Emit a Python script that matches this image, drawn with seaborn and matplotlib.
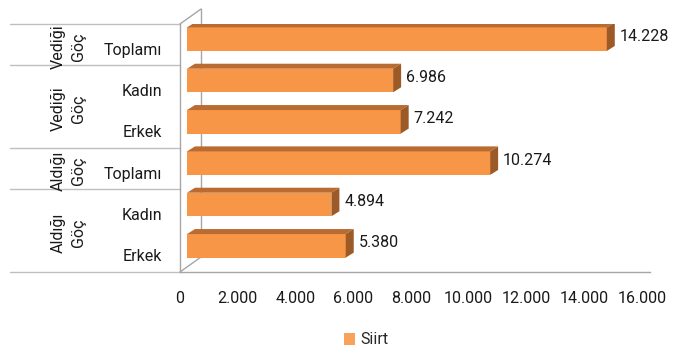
import matplotlib
matplotlib.use("Agg")
import matplotlib.pyplot as plt
import matplotlib.transforms as mtransforms
from matplotlib.patches import Polygon, Patch
import pandas as pd
import seaborn as sns

# data
groups = ["Vediği\nGöç", "Vediği\nGöç", "Vediği\nGöç", "Aldığı\nGöç", "Aldığı\nGöç", "Aldığı\nGöç"]
group_names = ["Vediği\nGöç", "Vediği\nGöç", "Aldığı\nGöç", "Aldığı\nGöç"]
group_spans = [(0, 0), (1, 2), (3, 3), (4, 5)]
items = ["Toplamı", "Kadın", "Erkek", "Toplamı", "Kadın", "Erkek"]
values = [14228, 6986, 7242, 10274, 4894, 5380]
x_ticks = [0, 2000, 4000, 6000, 8000, 10000, 12000, 14000, 16000]
series_name = "Siirt"

front = "#F79646"
top_col = "#B96B32"
side_col = "#9C5A26"
line_col = "#BFBFBF"

sns.set_style("white")
plt.rcParams["font.family"] = ["Roboto", "DejaVu Sans"]
fs = 11.5

df = pd.DataFrame({"grup": groups, "kalem": items, "deger": values})
df["kategori"] = [f"{i}_{k}" for i, k in enumerate(df["kalem"])]

fig = plt.figure(figsize=(6.87, 3.56), dpi=100)
ax = fig.add_axes([180 / 687, 1 - 272 / 356, 470 / 687, 248 / 356])

sns.barplot(data=df, y="kategori", x="deger", orient="h", color=front,
            width=0.57, saturation=1, ax=ax, zorder=3)

ax.set_xlim(0, 16280)
ax.set_ylim(5.5, -0.5)

# 3d look: bars sit a bit behind the front plane
bar_tr = (mtransforms.Affine2D().scale(1.022, 1) + ax.transData
          + mtransforms.ScaledTranslation(0.07, 0.055, fig.dpi_scale_trans))
depth_x = 271
depth_y = 0.121
for p in ax.patches:
    p.set_transform(bar_tr)
    p.set_edgecolor("none")
    x0, y0 = p.get_x(), p.get_y()
    w, h = p.get_width(), p.get_height()
    y_top, y_bot = y0, y0 + h
    top = Polygon([(x0, y_top), (x0 + w, y_top), (x0 + w + depth_x, y_top - depth_y),
                   (x0 + depth_x, y_top - depth_y)], closed=True,
                  facecolor=top_col, edgecolor="none", transform=bar_tr, zorder=3)
    side = Polygon([(x0 + w, y_top), (x0 + w, y_bot), (x0 + w + depth_x, y_bot - depth_y),
                    (x0 + w + depth_x, y_top - depth_y)], closed=True,
                   facecolor=side_col, edgecolor="none", transform=bar_tr, zorder=3)
    ax.add_patch(top)
    ax.add_patch(side)
    lab = f"{w:,.0f}".replace(",", ".")
    ax.annotate(lab, xy=(x0 + w, y0 + h / 2), xycoords=bar_tr,
                xytext=(13, 3), textcoords="offset pixels",
                ha="left", va="center", fontsize=fs, color="#1a1a1a")

# axes frame and back wall
for s in ["top", "right"]:
    ax.spines[s].set_visible(False)
for s in ["left", "bottom"]:
    ax.spines[s].set_color("#A6A6A6")
    ax.spines[s].set_linewidth(1)
ox, oy = 21 / 470, 15 / 248
ax.plot([ox, ox], [oy, 1 + oy], color="#A6A6A6", lw=1, transform=ax.transAxes, clip_on=False)
ax.plot([0, ox], [0, oy], color="#A6A6A6", lw=1, transform=ax.transAxes, clip_on=False)
ax.plot([0, ox], [1, 1 + oy], color="#A6A6A6", lw=1, transform=ax.transAxes, clip_on=False)

# x ticks
ax.set_xticks(x_ticks)
ax.set_xticklabels([f"{v:,.0f}".replace(",", ".") for v in x_ticks], fontsize=fs, color="#1a1a1a")
ax.tick_params(axis="x", length=0, pad=14)
ax.set_xlabel("")
ax.set_ylabel("")

# y ticks (item names) and group labels
ax.set_yticks(range(len(items)))
ax.set_yticklabels(items, fontsize=fs, color="#1a1a1a")
ax.tick_params(axis="y", length=0, pad=13)
for t in ax.get_yticklabels():
    t.set_transform(t.get_transform() + mtransforms.ScaledTranslation(0, -0.04, fig.dpi_scale_trans))

blend = mtransforms.blended_transform_factory(ax.transAxes, ax.transData)
for b in [-0.5, 0.5, 2.5, 3.5, 5.5]:
    ax.plot([-170 / 470, 0], [b, b], color=line_col, lw=1, transform=blend, clip_on=False)
for name, (a, b) in zip(group_names, group_spans):
    ax.text(-112 / 470, (a + b) / 2 + 0.05, name, rotation=90, transform=blend,
            ha="center", va="center", multialignment="center", fontsize=fs,
            color="#1a1a1a", linespacing=1.45)

fig.legend(handles=[Patch(facecolor="#F9A35A", edgecolor="none", label=series_name)],
           loc="center", bbox_to_anchor=(366 / 687, 1 - 340 / 356), frameon=False,
           fontsize=fs, handlelength=0.7, handleheight=0.7, handletextpad=0.3)

fig.savefig("out.png", dpi=100)
